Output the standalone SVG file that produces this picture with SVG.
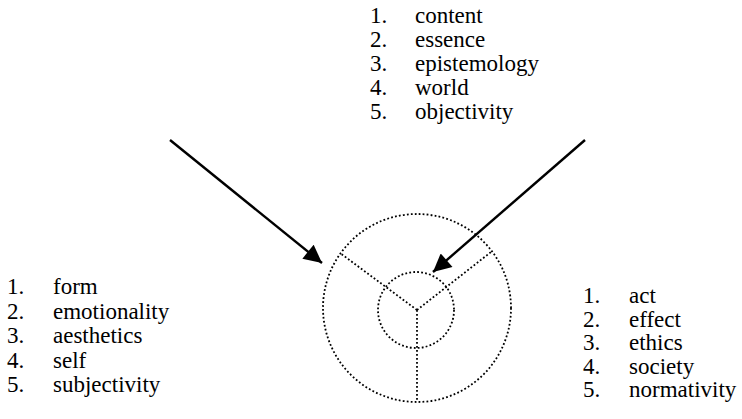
<svg xmlns="http://www.w3.org/2000/svg" width="742" height="419" viewBox="0 0 742 419">
<defs>
<style>
text{font-family:"Liberation Serif","Times New Roman",Times,serif;font-size:23px;fill:#000}
.dot{fill:none;stroke:#000;stroke-width:1.8;stroke-dasharray:1.8 2.2}
.arr{stroke:#000;stroke-width:2.4;fill:none}
</style>
<marker id="ah" viewBox="0 0 10 10" refX="10" refY="5" markerWidth="9" markerHeight="7.5" markerUnits="strokeWidth" orient="auto">
<path d="M0,0 L10,5 L0,10 z" fill="#000"/>
</marker>
</defs>
<rect width="742" height="419" fill="#fff"/>
<g id="top-list" font-family="Liberation Serif, serif">
<text x="370" y="23">1.</text><text x="415" y="23">content</text>
<text x="370" y="47">2.</text><text x="415" y="47">essence</text>
<text x="370" y="71">3.</text><text x="415" y="71">epistemology</text>
<text x="370" y="95">4.</text><text x="415" y="95">world</text>
<text x="370" y="119">5.</text><text x="415" y="119">objectivity</text>
</g>
<g id="left-list" font-family="Liberation Serif, serif">
<text x="7" y="294">1.</text><text x="53" y="294">form</text>
<text x="7" y="318.5">2.</text><text x="53" y="318.5">emotionality</text>
<text x="7" y="343">3.</text><text x="53" y="343">aesthetics</text>
<text x="7" y="367.5">4.</text><text x="53" y="367.5">self</text>
<text x="7" y="392">5.</text><text x="53" y="392">subjectivity</text>
</g>
<g id="right-list" font-family="Liberation Serif, serif">
<text x="583" y="303">1.</text><text x="629" y="303">act</text>
<text x="583" y="326.5">2.</text><text x="629" y="326.5">effect</text>
<text x="583" y="350">3.</text><text x="629" y="350">ethics</text>
<text x="583" y="373.5">4.</text><text x="629" y="373.5">society</text>
<text x="583" y="397">5.</text><text x="629" y="397">normativity</text>
</g>
<g id="circle-diagram">
<circle class="dot" cx="417" cy="308" r="94"/>
<circle class="dot" cx="416" cy="310" r="38"/>
<path class="dot" d="M417,310 L340,253 M417,310 L491,252 M417,310 L417,402"/>
</g>
<g id="connectors">
<line class="arr" x1="170" y1="140" x2="322" y2="263" marker-end="url(#ah)"/>
<line class="arr" x1="585" y1="140" x2="433" y2="272" marker-end="url(#ah)"/>
</g>
</svg>
